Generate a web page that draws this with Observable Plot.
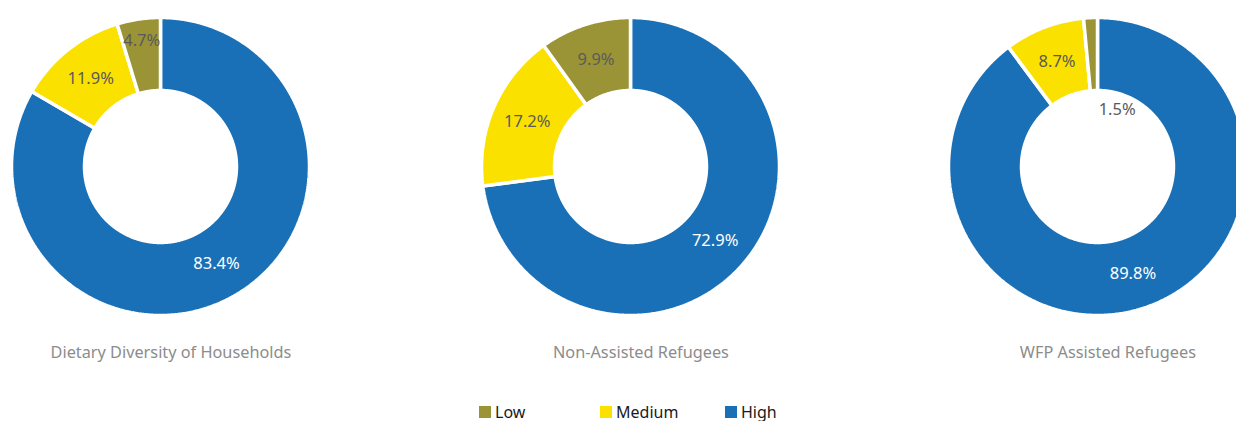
<!DOCTYPE html>
<html>
<head>
<meta charset="utf-8">
<script src="https://cdn.jsdelivr.net/npm/d3@7"></script>
<script src="https://cdn.jsdelivr.net/npm/@observablehq/plot@0.6"></script>
<style>
  html, body { margin: 0; padding: 0; background: #fff; overflow: hidden; }
  body { width: 1236px; height: 421px; font-family: "Noto Sans", sans-serif; }
  #chart svg { display: block; }
  .legend { position: relative; height: 45px; }
  .item { position: absolute; top: 27px; display: flex; align-items: center; font-size: 16px; color: #1a1a1a; line-height: 18px; }
  .sw { width: 12px; height: 12px; margin-right: 4px; }
</style>
</head>
<body>
<div id="chart"></div>
<div class="legend" id="legend"></div>
<script>
// ---- data ----
const charts = ["Dietary Diversity of Households", "Non-Assisted Refugees", "WFP Assisted Refugees"];
const levels = ["High", "Medium", "Low"];          // clockwise from 12 o'clock
const highValues   = [83.4, 72.9, 89.8];
const mediumValues = [11.9, 17.2, 8.7];
const lowValues    = [4.7, 9.9, 1.5];
const legendOrder  = ["Low", "Medium", "High"];
const colors = {Low: "#9a9436", Medium: "#fae100", High: "#1a70b7"};

// ---- layout ----
const W = 1236, H = 376;
const R = 149;               // outer radius in px
const innerRatio = 0.51;
const centerPx = [160, 630, 1097];
const cyPx = 166;
const xDomain = [-centerPx[0] / R, (W - centerPx[0]) / R];
const yDomain = [-(H - cyPx) / R, cyPx / R];
const cx = centerPx.map(p => (p - centerPx[0]) / R);

const series = {High: highValues, Medium: mediumValues, Low: lowValues};
const polys = [], labels = [], titles = [];
charts.forEach((name, i) => {
  let start = 0;
  levels.forEach(lv => {
    const v = series[lv][i];
    const a0 = start / 100 * 2 * Math.PI, a1 = (start + v) / 100 * 2 * Math.PI;
    start += v;
    const n = Math.max(4, Math.ceil((a1 - a0) / (Math.PI / 360)));
    const id = name + "|" + lv;
    for (let k = 0; k <= n; k++) {
      const a = a0 + (a1 - a0) * k / n;
      polys.push({id, level: lv, x: cx[i] + Math.sin(a), y: Math.cos(a)});
    }
    for (let k = n; k >= 0; k--) {
      const a = a0 + (a1 - a0) * k / n;
      polys.push({id, level: lv, x: cx[i] + innerRatio * Math.sin(a), y: innerRatio * Math.cos(a)});
    }
    polys.push({id, level: lv, x: cx[i] + Math.sin(a0), y: Math.cos(a0)});
    const am = (a0 + a1) / 2;
    const tiny = v < 3;
    const rr = tiny ? 0.38 : (1 + innerRatio) / 2 + (v < 6 ? 0.1 : 0);
    labels.push({
      text: v.toFixed(1) + "%", level: lv, tiny,
      x: cx[i] + rr * Math.sin(am) + (tiny ? 0.15 : 0),
      y: rr * Math.cos(am)
    });
  });
  titles.push({text: name, x: cx[i] + 0.07, y: -1.25});
});

const plot = Plot.plot({
  width: W, height: H,
  marginLeft: 0, marginRight: 0, marginTop: 0, marginBottom: 0,
  x: {domain: xDomain, axis: null},
  y: {domain: yDomain, axis: null},
  color: {domain: Object.keys(colors), range: Object.values(colors)},
  style: {fontFamily: "Noto Sans, sans-serif", background: "transparent"},
  marks: [
    Plot.line(polys, {x: "x", y: "y", z: "id", fill: "level", stroke: "white", strokeWidth: 3.5, strokeLinejoin: "miter", curve: "linear"}),
    Plot.text(labels, {x: "x", y: "y", text: "text", fontSize: 16.5,
      fill: d => d.level === "High" ? "white" : "#5a5a5a"}),
    Plot.text(titles, {x: "x", y: "y", text: "text", fontSize: 16.3, fill: "#8c8c8c"})
  ]
});
document.getElementById("chart").appendChild(plot);

// legend
const legendX = {Low: 479, Medium: 600, High: 725};
const leg = document.getElementById("legend");
legendOrder.forEach(k => {
  const it = document.createElement("div");
  it.className = "item";
  it.style.left = legendX[k] + "px";
  it.innerHTML = `<span class="sw" style="background:${colors[k]}"></span><span>${k}</span>`;
  leg.appendChild(it);
});
</script>
</body>
</html>
